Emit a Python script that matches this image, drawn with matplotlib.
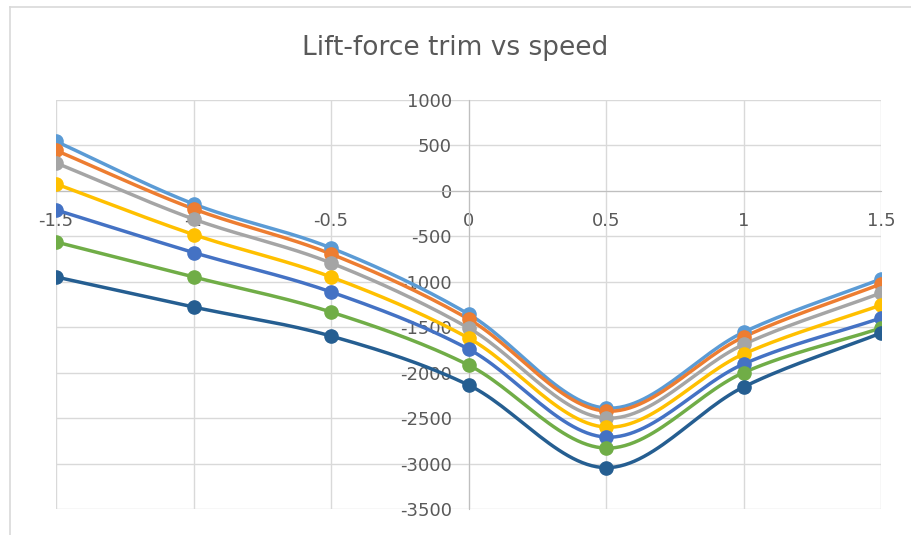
import numpy as np
import matplotlib.pyplot as plt
from matplotlib.lines import Line2D

plt.rcParams['axes.unicode_minus'] = False

# speed values (x) and lift-force for each trim series
speed = [-1.5, -1.0, -0.5, 0.0, 0.5, 1.0, 1.5]
s1 = [545, -143, -628, -1355, -2390, -1555, -969]
s2 = [445, -198, -694, -1410, -2423, -1608, -1024]
s3 = [308, -310, -793, -1508, -2500, -1690, -1123]
s4 = [77, -480, -947, -1619, -2599, -1795, -1256]
s5 = [-209, -678, -1112, -1740, -2709, -1905, -1399]
s6 = [-562, -947, -1333, -1916, -2830, -2000, -1509]
s7 = [-947, -1278, -1597, -2136, -3045, -2158, -1564]
series = [s1, s2, s3, s4, s5, s6, s7]
colors = ['#5B9BD5', '#ED7D31', '#A5A5A5', '#FFC000', '#4472C4', '#70AD47', '#255E91']


def smooth(x, y, n=30):
    # catmull-rom through the points, like excel's smoothed line
    x = np.asarray(x, float)
    y = np.asarray(y, float)
    px = np.concatenate([[2 * x[0] - x[1]], x, [2 * x[-1] - x[-2]]])
    py = np.concatenate([[2 * y[0] - y[1]], y, [2 * y[-1] - y[-2]]])
    xs, ys = [], []
    t = np.linspace(0, 1, n)
    for i in range(1, len(px) - 2):
        for p, out in ((px, xs), (py, ys)):
            p0, p1, p2, p3 = p[i - 1], p[i], p[i + 1], p[i + 2]
            out.extend(0.5 * (2 * p1 + (-p0 + p2) * t
                              + (2 * p0 - 5 * p1 + 4 * p2 - p3) * t ** 2
                              + (-p0 + 3 * p1 - 3 * p2 + p3) * t ** 3))
    return xs, ys


fig = plt.figure(figsize=(9.11, 5.35), dpi=100)
ax = fig.add_axes([56 / 911, 1 - 509 / 535, (881 - 56) / 911, (509 - 100) / 535])

for ys, c in zip(series, colors):
    sx, sy = smooth(speed, ys)
    ax.plot(sx, sy, color=c, lw=2.5, zorder=3)
    ax.plot(speed, ys, 'o', color=c, ms=9.5, zorder=4)

ax.set_xlim(-1.5, 1.5)
ax.set_ylim(-3500, 1000)
ax.set_xticks([-1.5, -1, -0.5, 0, 0.5, 1, 1.5])
ax.set_xticklabels(['-1.5', '-1', '-0.5', '0', '0.5', '1', '1.5'])
ax.set_yticks(np.arange(-3500, 1001, 500))
ax.grid(True, color='#D9D9D9', lw=1)
ax.set_axisbelow(True)

for side in ['top', 'right']:
    ax.spines[side].set_visible(False)
ax.spines['left'].set_position(('data', 0))
ax.spines['bottom'].set_position(('data', 0))
ax.spines['left'].set_color('#BFBFBF')
ax.spines['bottom'].set_color('#BFBFBF')
ax.tick_params(length=0, colors='#595959', labelsize=13)
ax.tick_params(axis='x', pad=15)
ax.tick_params(axis='y', pad=12)

fig.text(0.5, 1 - 48 / 535, 'Lift-force trim vs speed', ha='center', va='center',
         fontsize=19, color='#595959')

# chart area border (left and top edges visible)
fig.add_artist(Line2D([10 / 911, 10 / 911], [0, 1 - 7 / 535], color='#D9D9D9', lw=1.2))
fig.add_artist(Line2D([10 / 911, 1], [1 - 7 / 535, 1 - 7 / 535], color='#D9D9D9', lw=1.2))

fig.savefig('out.png', dpi=100)
